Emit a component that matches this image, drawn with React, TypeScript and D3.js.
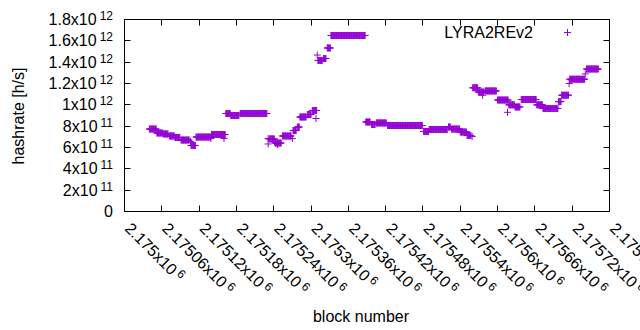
import React, { useRef, useEffect } from 'react';
import * as d3 from 'd3';

// hashrate series read as steps: first block, last block, hashrate [h/s]
const runFirst = [
  2175040, 2175052, 2175062, 2175072, 2175081, 2175091, 2175106, 2175107, 2175115, 2175139,
  2175140, 2175160, 2175163, 2175171, 2175186, 2175231, 2175231, 2175233, 2175242, 2175246,
  2175254, 2175270, 2175271, 2175278, 2175282, 2175294, 2175302, 2175308, 2175310, 2175311,
  2175320, 2175326, 2175332, 2175388, 2175397, 2175405, 2175423, 2175481, 2175490, 2175521,
  2175526, 2175540, 2175551, 2175559, 2175560, 2175569, 2175576, 2175580, 2175600, 2175616,
  2175618, 2175628, 2175638, 2175663, 2175673, 2175698, 2175703, 2175715, 2175716, 2175741,
  2175743,
];
const runLast = [
  2175051, 2175061, 2175070, 2175080, 2175089, 2175104, 2175106, 2175114, 2175138, 2175139,
  2175162, 2175160, 2175170, 2175184, 2175229, 2175231, 2175231, 2175241, 2175252, 2175246,
  2175268, 2175270, 2175276, 2175281, 2175292, 2175300, 2175309, 2175308, 2175310, 2175318,
  2175324, 2175331, 2175387, 2175395, 2175403, 2175421, 2175479, 2175489, 2175519, 2175524,
  2175539, 2175550, 2175557, 2175559, 2175568, 2175578, 2175576, 2175598, 2175617, 2175616,
  2175627, 2175636, 2175662, 2175672, 2175697, 2175702, 2175714, 2175715, 2175740, 2175741,
  2175762,
];
const runRate = [
  7.73e11, 7.36e11, 7.27e11, 7.08e11, 6.94e11, 6.70e11, 6.56e11, 6.19e11, 6.98e11, 6.84e11,
  7.22e11, 6.84e11, 9.19e11, 9.0e11, 9.19e11, 6.84e11, 6.33e11, 6.8e11, 6.42e11, 6.28e11,
  7.08e11, 6.84e11, 7.59e11, 7.92e11, 8.86e11, 9.09e11, 9.47e11, 8.72e11, 1.467e12, 1.416e12,
  1.434e12, 1.533e12, 1.65e12, 8.39e11, 8.16e11, 8.3e11, 8.06e11, 7.5e11, 7.69e11, 7.92e11,
  7.73e11, 7.45e11, 7.13e11, 7.03e11, 1.16e12, 1.12e12, 1.09e12, 1.13e12, 1.045e12, 9.3e11,
  1.0e12, 9.8e11, 1.05e12, 1.0e12, 9.66e11, 1.03e12, 1.09e12, 1.2e12, 1.24e12, 1.29e12,
  1.336e12,
];

const xTicks = [
  2175000, 2175060, 2175120, 2175180, 2175240, 2175300, 2175360,
  2175420, 2175480, 2175540, 2175600, 2175660, 2175720, 2175780,
];
const yTicks = [0, 2e11, 4e11, 6e11, 8e11, 1e12, 1.2e12, 1.4e12, 1.6e12, 1.8e12];

const seriesName = 'LYRA2REv2';
const color = '#9400d3';

// "1.8x10^12" style labels
const sciParts = (v: number): [string, string | null] => {
  if (v === 0) return ['0', null];
  const exp = Math.floor(Math.log10(v) + 1e-9);
  const mant = +(v / Math.pow(10, exp)).toPrecision(6);
  return [`${d3.format('~g')(mant)}x10`, String(exp)];
};

const App: React.FC = () => {
  const svgRef = useRef<SVGSVGElement | null>(null);

  useEffect(() => {
    const svg = d3.select(svgRef.current);
    svg.selectAll('*').remove();

    const width = 640;
    const height = 330;
    const left = 124.5, right = 609.5, top = 19.5, bottom = 211.5;
    const font = '"Liberation Sans", Arial, sans-serif';

    svg.attr('width', width).attr('height', height)
      .style('font-family', font);

    svg.append('rect').attr('width', width).attr('height', height).attr('fill', '#fff');

    const x = d3.scaleLinear().domain([2175000, 2175780]).range([left, right]);
    const y = d3.scaleLinear().domain([0, 1.8e12]).range([bottom, top]);

    const points: { block: number; rate: number }[] = [];
    runFirst.forEach((b0, i) => {
      for (let b = b0; b <= runLast[i]; b++) points.push({ block: b, rate: runRate[i] });
    });

    const plus = (cx: number, cy: number, r = 3.5) =>
      `M${cx - r},${cy}H${cx + r}M${cx},${cy - r}V${cy + r}`;

    // points
    svg.append('g')
      .selectAll('path')
      .data(points)
      .join('path')
      .attr('d', d => plus(x(d.block), y(d.rate)))
      .attr('stroke', color)
      .attr('stroke-width', 1)
      .attr('fill', 'none');

    // frame
    svg.append('rect')
      .attr('x', left).attr('y', top)
      .attr('width', right - left).attr('height', bottom - top)
      .attr('fill', 'none').attr('stroke', '#000').attr('stroke-width', 1);

    const tick = 6;
    const ticks = svg.append('g').attr('stroke', '#000').attr('stroke-width', 1);
    yTicks.forEach(v => {
      const yy = Math.round(y(v) - 0.5) + 0.5;
      ticks.append('line').attr('x1', left).attr('x2', left + tick).attr('y1', yy).attr('y2', yy);
      ticks.append('line').attr('x1', right).attr('x2', right - tick).attr('y1', yy).attr('y2', yy);
    });
    xTicks.forEach(v => {
      const xx = Math.round(x(v) - 0.5) + 0.5;
      ticks.append('line').attr('x1', xx).attr('x2', xx).attr('y1', bottom).attr('y2', bottom - tick);
      ticks.append('line').attr('x1', xx).attr('x2', xx).attr('y1', top).attr('y2', top + tick);
    });

    // y tick labels
    yTicks.forEach(v => {
      const [m, e] = sciParts(v);
      const t = svg.append('text')
        .attr('x', 113).attr('y', y(v)).attr('dy', '0.35em')
        .attr('text-anchor', 'end').attr('font-size', 16).attr('fill', '#000');
      t.append('tspan').text(m);
      if (e) t.append('tspan').attr('dx', 3).attr('dy', -5).attr('font-size', 12).text(e);
    });

    // x tick labels, rotated
    xTicks.forEach(v => {
      const [m, e] = sciParts(v);
      const ax = x(v) + 3.5, ay = 225.5;
      const t = svg.append('text')
        .attr('transform', `translate(${ax},${ay}) rotate(45)`)
        .attr('dy', '0.35em')
        .attr('font-size', 16).attr('fill', '#000');
      t.append('tspan').text(m);
      if (e) t.append('tspan').attr('dx', 3).attr('dy', -5).attr('font-size', 12).text(e);
    });

    // axis titles
    svg.append('text')
      .attr('transform', `translate(18,116) rotate(-90)`)
      .attr('dy', '0.35em')
      .attr('text-anchor', 'middle').attr('font-size', 16)
      .text('hashrate [h/s]');

    svg.append('text')
      .attr('x', 361).attr('y', 322)
      .attr('text-anchor', 'middle').attr('font-size', 16)
      .text('block number');

    // legend
    svg.append('text')
      .attr('x', 533).attr('y', 38)
      .attr('text-anchor', 'end').attr('font-size', 16)
      .text(seriesName);
    svg.append('path')
      .attr('d', plus(567.5, 32.5))
      .attr('stroke', color).attr('stroke-width', 1).attr('fill', 'none');
  }, []);

  return (
    <div style={{ position: 'absolute', left: 0, top: 0 }}>
      <svg ref={svgRef} style={{ display: 'block' }}></svg>
    </div>
  );
};

export default App;
